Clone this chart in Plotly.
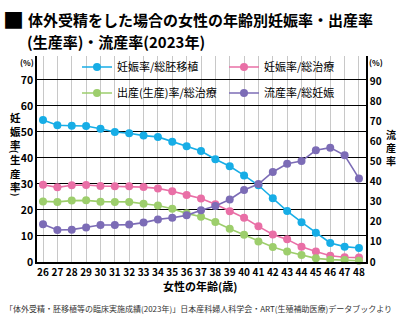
import plotly.graph_objects as go

ages = list(range(26, 49))
preg_per_transfer = [54.6, 52.6, 52.4, 52.3, 51.2, 50.0, 49.5, 48.6, 48.1, 46.2, 44.5, 42.7,
                     39.5, 36.8, 33.3, 29.5, 24.5, 19.6, 15.3, 11.2, 7.3, 5.9, 5.4]
preg_per_treat = [29.7, 28.7, 29.5, 29.6, 29.2, 29.1, 29.1, 28.8, 28.3, 27.2, 25.8, 24.4,
                  22.2, 19.5, 17.0, 13.7, 10.6, 8.7, 5.9, 4.0, 2.4, 1.8, 1.7]
birth_per_treat = [23.3, 23.1, 23.6, 23.7, 23.2, 23.1, 23.1, 22.4, 21.7, 20.5, 18.7, 17.4,
                   15.4, 12.8, 10.5, 7.9, 5.8, 4.0, 2.7, 1.4, 0.9, 0.8, 0.5]
miscarriage = [18.8, 15.9, 16.1, 17.2, 18.4, 18.4, 18.6, 19.6, 21.2, 22.0, 23.2, 25.7,
               27.9, 31.1, 35.8, 38.8, 44.8, 48.9, 50.2, 55.6, 56.9, 53.1, 41.6]

names = ["妊娠率/総胚移植", "妊娠率/総治療", "出産(生産)率/総治療", "流産率/総妊娠"]
colors = ["#17ade6", "#e96fa6", "#9dce6c", "#7c6cb6"]
left_ticks = list(range(0, 80, 10))
right_ticks = list(range(0, 100, 10))

FONT = "Noto Sans CJK JP"
W, H = 397, 322
L, R, T, B = 37, 31, 56, 60
PW, PH = W - L - R, H - T - B

def xp(x):
    return (x - L) / PW

def yp(y):
    return (H - B - y) / PH

fig = go.Figure()
series = [(preg_per_transfer, "y", "legend"), (preg_per_treat, "y", "legend"),
          (birth_per_treat, "y", "legend2"), (miscarriage, "y2", "legend2")]
for (vals, ax, lg), nm, c in zip(series, names, colors):
    fig.add_trace(go.Scatter(
        x=ages, y=vals, name=nm, yaxis=ax, legend=lg, mode="lines+markers",
        line=dict(color=c, width=1.6), marker=dict(color=c, size=8),
        cliponaxis=False))

tickfont = dict(family=FONT, size=10.5, color="black", weight="bold")

legend_common = dict(orientation="h", xanchor="left", yanchor="middle",
                     bgcolor="rgba(0,0,0,0)", entrywidth=102, entrywidthmode="pixels",
                     font=dict(family=FONT, size=11, color="black"))

fig.update_layout(
    width=W, height=H, margin=dict(l=L, r=R, t=T, b=B, autoexpand=False),
    paper_bgcolor="white", plot_bgcolor="white",
    font=dict(family=FONT, color="black"),
    xaxis=dict(range=[25.58, 48.49], tickmode="array", tickvals=ages,
               ticktext=[str(a) for a in ages], tickangle=0, showgrid=True,
               gridcolor="#c8c8c8", gridwidth=1.3, zeroline=False, showline=True,
               linecolor="black", linewidth=1.5, ticks="",
               tickfont=dict(family=FONT, size=10, color="black", weight="bold"),
               automargin=False),
    yaxis=dict(range=[0, 79.2], tickvals=left_ticks, showgrid=True, gridcolor="black",
               gridwidth=1.2, zeroline=False, showline=True, linecolor="black",
               linewidth=1.5, ticks="", tickfont=tickfont, automargin=False),
    yaxis2=dict(range=[0, 102.5], tickvals=right_ticks, overlaying="y", side="right",
                showgrid=False, zeroline=False, showline=True, linecolor="black",
                linewidth=1.5, ticks="",
                tickfont=dict(family=FONT, size=10, color="black", weight="bold"),
                automargin=False),
    legend=dict(x=xp(77), y=yp(67), **legend_common),
    legend2=dict(x=xp(77), y=yp(93), **legend_common),
)

def px_ann(text, x, y, size, xanchor="center", yanchor="middle", weight="bold",
           color="black", angle=0):
    fig.add_annotation(text=text, x=xp(x), y=yp(y), xref="paper", yref="paper",
                       xanchor=xanchor, yanchor=yanchor, showarrow=False,
                       textangle=angle, borderpad=0,
                       font=dict(family=FONT, size=size, color=color, weight=weight))

# Title
px_ann("■", 2, 19, 21, xanchor="left")
px_ann("体外受精をした場合の女性の年齢別妊娠率・出産率", 27, 19, 15, xanchor="left")
px_ann("(生産率)・流産率(2023年)", 26, 41, 15, xanchor="left")

# (%) labels
px_ann("(%)", 27, 62, 8)
px_ann("(%)", 376, 62, 8)

# Left axis title (vertical, stacked characters)
px_ann("妊<br>娠<br>率", 15, 130.5, 10.5)
px_ann("(", 15, 151, 9, angle=90)
px_ann("生<br>産<br>率", 15, 172.5, 10.5)
px_ann(")", 15, 194, 9, angle=90)

# Right axis title
px_ann("流<br>産<br>率", 391, 147, 10)

# X title
px_ann("女性の年齢(歳)", 200, 286, 11)

# Source
px_ann("「体外受精・胚移植等の臨床実施成績(2023年)」日本産科婦人科学会・ART(生殖補助医療)データブックより",
       198.5, 308, 8.0, weight="normal", color="#333333")

fig.write_html("out.html")
